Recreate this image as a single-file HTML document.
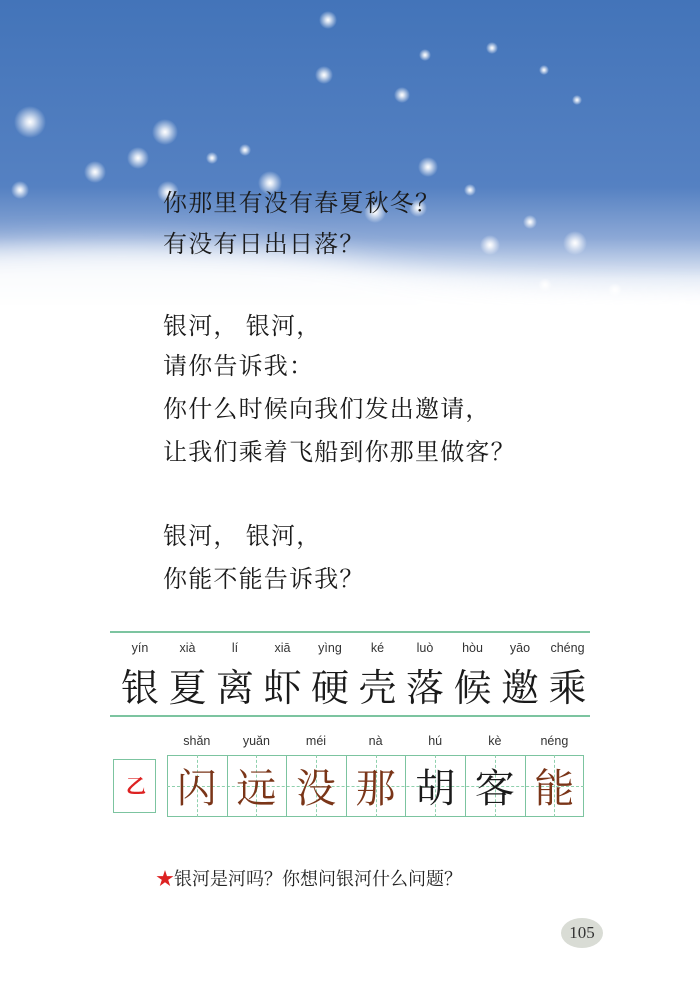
<!DOCTYPE html>
<html><head><meta charset="utf-8"><style>
body{margin:0;width:700px;height:1000px;background:#fff;position:relative;overflow:hidden;font-family:"Liberation Serif","Noto Serif CJK SC",serif}
.l{position:absolute;left:163px;font-size:24px;color:#1a1a1a;letter-spacing:1.2px;white-space:nowrap}
.py{position:absolute;font-family:"Liberation Sans",sans-serif;font-size:12.5px;color:#333;transform:translateX(-50%)}
.ch{position:absolute;font-family:"Noto Serif CJK SC",serif;font-size:38px;color:#1a1a1a;transform:translateX(-50%);line-height:1}
.bx{position:absolute;border:1.5px solid #7cc4a0;box-sizing:border-box}
</style></head><body>
<svg width="700" height="340" style="position:absolute;left:0;top:0">
<defs>
<linearGradient id="g" x1="0" y1="0" x2="0" y2="1"><stop offset="0" stop-color="#4374b9"/><stop offset="0.55" stop-color="#5581c2"/><stop offset="0.7" stop-color="#8ca8d6"/><stop offset="0.82" stop-color="#e4ebf6"/><stop offset="0.9" stop-color="#ffffff"/></linearGradient>
<radialGradient id="s"><stop offset="0" stop-color="#fff"/><stop offset="0.25" stop-color="#fff" stop-opacity="0.8"/><stop offset="1" stop-color="#fff" stop-opacity="0"/></radialGradient>
<filter id="b" x="-20%" y="-100%" width="140%" height="300%"><feGaussianBlur stdDeviation="14"/></filter>
</defs>
<rect width="700" height="340" fill="url(#g)"/>
<path d="M-40 250 Q200 235 350 262 Q500 292 740 295 L740 380 L-40 380Z" fill="#fff" opacity="0.85" filter="url(#b)"/>
<g fill="url(#s)">
<circle cx="328" cy="20" r="9"/><circle cx="324" cy="75" r="9"/><circle cx="425" cy="55" r="6"/><circle cx="492" cy="48" r="6"/><circle cx="544" cy="70" r="5"/><circle cx="402" cy="95" r="8"/><circle cx="577" cy="100" r="5"/>
<circle cx="30" cy="122" r="16"/><circle cx="165" cy="132" r="13"/><circle cx="138" cy="158" r="11"/><circle cx="95" cy="172" r="11"/><circle cx="168" cy="192" r="11"/><circle cx="270" cy="183" r="12"/><circle cx="428" cy="167" r="10"/>
<circle cx="375" cy="212" r="11"/><circle cx="418" cy="208" r="9"/><circle cx="490" cy="245" r="10"/><circle cx="575" cy="243" r="12"/><circle cx="530" cy="222" r="7"/><circle cx="615" cy="290" r="7"/><circle cx="683" cy="305" r="7"/><circle cx="20" cy="190" r="9"/><circle cx="245" cy="150" r="6"/><circle cx="212" cy="158" r="6"/><circle cx="470" cy="190" r="6"/><circle cx="545" cy="285" r="7"/>
</g></svg>
<div class="l" style="top:183px">你那里有没有春夏秋冬？</div>
<div class="l" style="top:224px">有没有日出日落？</div>
<div class="l" style="top:306px">银河， 银河，</div>
<div class="l" style="top:346px">请你告诉我：</div>
<div class="l" style="top:389px">你什么时候向我们发出邀请，</div>
<div class="l" style="top:432px">让我们乘着飞船到你那里做客？</div>
<div class="l" style="top:516px">银河， 银河，</div>
<div class="l" style="top:559px">你能不能告诉我？</div>
<div style="position:absolute;left:110px;top:631px;width:480px;height:1.5px;background:#7cc4a0"></div>
<div style="position:absolute;left:110px;top:715px;width:480px;height:1.5px;background:#7cc4a0"></div>
<div class="bx" style="left:113px;top:759px;width:43px;height:54px"><span style="position:absolute;left:12px;top:10px;color:#d22;font-size:20px;font-weight:bold">乙</span></div>
<div class="bx" style="left:167px;top:755px;width:417px;height:62px;border-width:1px"></div>
<div style="position:absolute;left:167px;top:786px;width:417px;border-top:1px dashed #8fd0ad"></div>
<div style="position:absolute;left:156px;top:865px;font-size:18px;color:#222"><span style="color:#d22">★</span>银河是河吗？你想问银河什么问题？</div>
<div style="position:absolute;left:561px;top:918px;width:42px;height:30px;border-radius:50%;background:#d9dcd5;text-align:center;line-height:30px;font-size:17px;color:#333">105</div>
<script>
const py1=["yín","xià","lí","xiā","yìng","ké","luò","hòu","yāo","chéng"];
const ch1=["银","夏","离","虾","硬","壳","落","候","邀","乘"];
const py2=["shǎn","yuǎn","méi","nà","hú","kè","néng"];
const ch2=["闪","远","没","那","胡","客","能"];
const col2=["#7a3518","#7a3518","#7a3518","#7a3518","#1a1a1a","#1a1a1a","#7a3518"];
const b=document.body;
py1.forEach((p,i)=>{const x=140+i*47.5;
const a=document.createElement('div');a.className='py';a.style.left=x+'px';a.style.top='641px';a.textContent=p;

b.appendChild(a);
const c=document.createElement('div');c.className='ch';c.style.left=x+'px';c.style.top='666px';c.textContent=ch1[i];

b.appendChild(c);});
py2.forEach((p,i)=>{const x=196.8+i*59.6;
const a=document.createElement('div');a.className='py';a.style.left=x+'px';a.style.top='734px';a.textContent=p;

b.appendChild(a);
if(i>0){const s=document.createElement('div');s.style.cssText='position:absolute;top:755px;height:62px;width:0;border-left:1px solid #7cc4a0;left:'+(167+i*59.6)+'px';

b.appendChild(s);}
const d=document.createElement('div');d.style.cssText='position:absolute;top:755px;height:62px;width:0;border-left:1px dashed #8fd0ad;left:'+x+'px';

b.appendChild(d);
const c=document.createElement('div');c.className='ch';c.style.left=x+'px';c.style.top='766px';c.style.color=col2[i];c.style.fontSize='40px';c.textContent=ch2[i];

b.appendChild(c);});
</script>
</body></html>
